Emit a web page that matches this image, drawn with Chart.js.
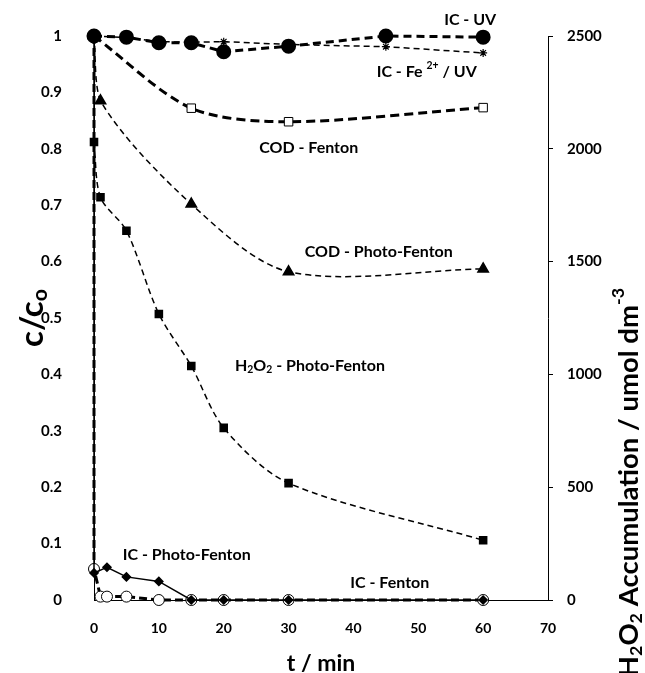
<!DOCTYPE html>
<html><head><meta charset="utf-8">
<script src="https://cdn.jsdelivr.net/npm/chart.js@4/dist/chart.umd.min.js"></script>
<style>html,body{margin:0;padding:0;background:#fff}#wrap{width:645px;height:673px;position:relative}</style>
</head><body><div id="wrap"><canvas id="c" width="645" height="673"></canvas></div>
<script>
// ---- data ----
const tIC = [0, 5, 10, 15, 20, 30, 45, 60];
const icUV = [1.0, 0.998, 0.988, 0.988, 0.972, 0.982, 1.0, 0.998];
const icFeUV = [1.0, 0.997, 0.99, 0.989, 0.99, 0.985, 0.981, 0.97];
const tCODF = [0, 15, 30, 60];
const codFenton = [1.0, 0.872, 0.848, 0.873];
const tCODPF = [0, 1, 15, 30, 60];
const codPhotoFenton = [1.0, 0.885, 0.702, 0.582, 0.587];
const tH2O2 = [0, 1, 5, 10, 15, 20, 30, 60];
const h2o2PhotoFenton = [2030, 1785, 1637, 1268, 1037, 763, 518, 265];
const tICPF = [0, 0, 2, 5, 10, 15, 20, 30, 60];
const icPhotoFenton = [1.0, 0.048, 0.058, 0.041, 0.033, 0, 0, 0, 0];
const tICF = [0, 0, 1, 2, 5, 10, 15, 20, 30, 60];
const icFenton = [1.0, 0.055, 0.006, 0.006, 0.006, 0, 0, 0, 0, 0];
const xTicks = [0, 10, 20, 30, 40, 50, 60, 70];
const yTicks = [0, 0.1, 0.2, 0.3, 0.4, 0.5, 0.6, 0.7, 0.8, 0.9, 1];
const y2Ticks = [0, 500, 1000, 1500, 2000, 2500];

// ---- series labels (text drawn on the chart) ----
const seriesLabels = [
  { segs: [{t: 'IC - UV'}], x: 58.0, y: 1.028 },
  { segs: [{t: 'IC - Fe '}, {t: '2+', sup: true}, {t: ' / UV'}], x: 51.3, y: 0.936 },
  { segs: [{t: 'COD - Fenton'}], x: 33.1, y: 0.801 },
  { segs: [{t: 'COD - Photo-Fenton'}], x: 43.9, y: 0.617 },
  { segs: [{t: 'H'}, {t: '2', sub: true}, {t: 'O'}, {t: '2', sub: true}, {t: ' - Photo-Fenton'}], x: 33.3, y: 0.415 },
  { segs: [{t: 'IC - Photo-Fenton'}], x: 14.3, y: 0.080 },
  { segs: [{t: 'IC - Fenton'}], x: 45.6, y: 0.030 }
];

const FONT = 'Lato, "Open Sans", sans-serif';
const zip = (xs, ys) => xs.map((x, i) => ({x, y: ys[i]}));

function richWidth(ctx, segs, size) {
  let w = 0;
  for (const s of segs) {
    const fs = (s.sub || s.sup) ? size * 0.65 : size;
    ctx.font = 'bold ' + fs + 'px ' + FONT;
    w += ctx.measureText(s.t).width;
  }
  return w;
}
function drawRich(ctx, segs, size, startX, baseY) {
  let x = startX;
  for (const s of segs) {
    const fs = (s.sub || s.sup) ? size * 0.65 : size;
    ctx.font = 'bold ' + fs + 'px ' + FONT;
    let dy = 0;
    if (s.sub) dy = size * 0.25;
    if (s.sup) dy = -size * 0.38;
    ctx.fillText(s.t, x, baseY + dy);
    x += ctx.measureText(s.t).width;
  }
}

const textPlugin = {
  id: 'texts',
  afterDraw(chart) {
    const ctx = chart.ctx;
    const xs = chart.scales.x, ys = chart.scales.y;
    ctx.save();
    ctx.fillStyle = '#000';
    ctx.textBaseline = 'middle';
    ctx.textAlign = 'left';
    for (const L of seriesLabels) {
      const size = 16;
      const w = richWidth(ctx, L.segs, size);
      const px = xs.getPixelForValue(L.x), py = ys.getPixelForValue(L.y);
      drawRich(ctx, L.segs, size, px - w / 2, py);
    }
    // left axis title
    ctx.save();
    ctx.translate(32, (chart.chartArea.top + chart.chartArea.bottom) / 2);
    ctx.rotate(-Math.PI / 2);
    const lt = [{t: 'c/c'}, {t: 'o', sub: true}];
    const lw = richWidth(ctx, lt, 33);
    drawRich(ctx, lt, 33, -lw / 2, 0);
    ctx.restore();
    // right axis title
    ctx.save();
    ctx.translate(629, 288);
    ctx.rotate(-Math.PI / 2);
    const rt = [{t: 'H'}, {t: '2', sub: true}, {t: 'O'}, {t: '2', sub: true}, {t: ' Accumulation / umol dm'}, {t: '-3', sup: true}];
    const rw = richWidth(ctx, rt, 27.5);
    drawRich(ctx, rt, 27.5, -rw, 0);
    ctx.restore();
    // x axis title
    const xt = [{t: 't / min'}];
    const xw = richWidth(ctx, xt, 23);
    drawRich(ctx, xt, 23, (chart.chartArea.left + chart.chartArea.right) / 2 - xw / 2, 664);
    ctx.restore();
  }
};

const dsBase = { showLine: true, clip: false, borderColor: '#000', pointBorderColor: '#000', pointBackgroundColor: '#000', yAxisID: 'y' };

new Chart(document.getElementById('c'), {
  type: 'scatter',
  data: {
    datasets: [
      Object.assign({}, dsBase, { label: 'IC - UV', data: zip(tIC, icUV), borderWidth: 3, borderDash: [8, 5],
        pointStyle: 'circle', pointRadius: 6 }),
      Object.assign({}, dsBase, { label: 'IC - Fe2+ / UV', data: zip(tIC, icFeUV), borderWidth: 1.5, borderDash: [6, 4],
        pointStyle: 'star', pointRadius: 4, pointBorderWidth: 1.2 }),
      Object.assign({}, dsBase, { label: 'COD - Fenton', data: zip(tCODF, codFenton), borderWidth: 3, borderDash: [9, 5], tension: 0.3,
        pointStyle: 'rect', pointRadius: 6, pointBackgroundColor: '#fff', pointBorderWidth: 1 }),
      Object.assign({}, dsBase, { label: 'COD - Photo-Fenton', data: zip(tCODPF, codPhotoFenton), borderWidth: 1.5, borderDash: [6, 4], tension: 0.3,
        pointStyle: 'triangle', pointRadius: 6 }),
      Object.assign({}, dsBase, { label: 'H2O2 - Photo-Fenton', data: zip(tH2O2, h2o2PhotoFenton), yAxisID: 'y2', borderWidth: 1.5, borderDash: [6, 4], tension: 0.3,
        pointStyle: 'rect', pointRadius: 5 }),
      Object.assign({}, dsBase, { label: 'IC - Photo-Fenton', data: zip(tICPF, icPhotoFenton), borderWidth: 1.5,
        pointStyle: 'rectRot', pointRadius: (c) => c.dataIndex === 0 ? 0 : 4 }),
      Object.assign({}, dsBase, { label: 'IC - Fenton', data: zip(tICF, icFenton), borderWidth: 3, borderDash: [8, 4],
        pointStyle: 'circle', pointRadius: (c) => c.dataIndex === 0 ? 0 : 5.5, pointBackgroundColor: '#fff', pointBorderWidth: 1 })
    ]
  },
  options: {
    responsive: false, animation: false, devicePixelRatio: 1,
    layout: { padding: { top: 36, left: 0, right: 0, bottom: 0 } },
    plugins: { legend: { display: false }, tooltip: { enabled: false } },
    scales: {
      x: {
        type: 'linear', min: 0, max: 70,
        afterFit: (s) => { s.height = 73; },
        afterBuildTicks: (s) => { s.ticks = xTicks.map(v => ({value: v})); },
        grid: { display: false },
        border: { display: true, color: '#000', width: 1 },
        ticks: { color: '#000', padding: 12, font: { family: FONT, size: 14, weight: 'bold' }, maxRotation: 0 }
      },
      y: {
        type: 'linear', position: 'left', min: 0, max: 1,
        afterFit: (s) => { s.width = 94; },
        afterBuildTicks: (s) => { s.ticks = yTicks.map(v => ({value: v})); },
        grid: { display: false },
        border: { display: true, color: '#000', width: 1 },
        ticks: { color: '#000', padding: 24, font: { family: FONT, size: 15, weight: 'bold' }, callback: (v) => String(Math.round(v * 10) / 10) }
      },
      y2: {
        type: 'linear', position: 'right', min: 0, max: 2500,
        afterFit: (s) => { s.width = 97; },
        afterBuildTicks: (s) => { s.ticks = y2Ticks.map(v => ({value: v})); },
        grid: { display: true, drawOnChartArea: false, drawTicks: true, tickLength: 5, color: '#000' },
        border: { display: true, color: '#000', width: 1 },
        ticks: { color: '#000', padding: 14, font: { family: FONT, size: 15, weight: 'bold' }, callback: (v) => String(v) }
      }
    }
  },
  plugins: [textPlugin]
});
</script>
</body></html>
